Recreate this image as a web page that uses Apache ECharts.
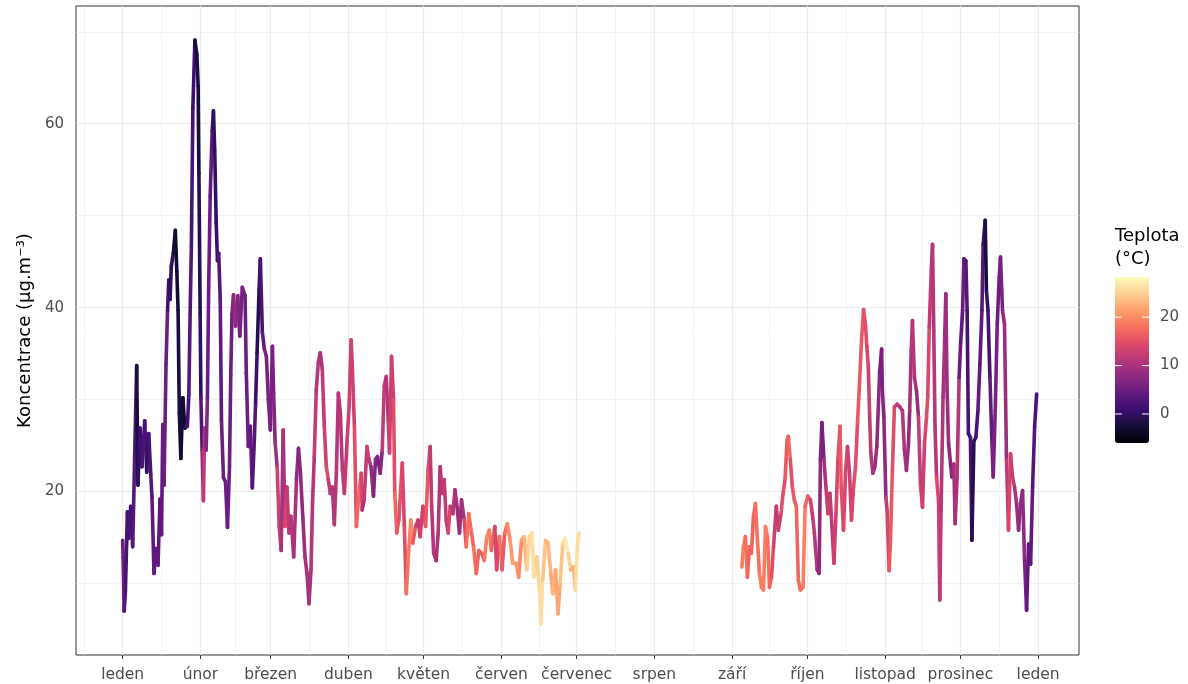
<!DOCTYPE html>
<html>
<head>
<meta charset="utf-8">
<script src="https://cdn.jsdelivr.net/npm/echarts@6/dist/echarts.min.js"></script>
<style>
  html, body { margin: 0; padding: 0; background: #ffffff; }
  #chart { width: 1188px; height: 684px; }
</style>
</head>
<body>
<div id="chart"></div>
<script>
// Den v roce (0 = 1. ledna), koncentrace v µg.m-3 a teplota v °C
// Úsek leden – červen
const dnyZima = [0.0,0.2,0.6,1.1,1.9,2.4,3.2,4.0,4.8,5.6,6.1,6.9,7.7,8.8,9.6,10.4,11.2,11.7,12.5,13.3,14.1,14.9,15.5,16.0,16.5,17.3,17.9,18.4,18.9,19.4,20.2,21.0,21.6,22.1,22.6,23.2,24.0,24.8,25.8,26.4,26.9,27.4,28.0,28.8,29.6,30.1,30.4,30.9,31.2,31.7,32.2,32.7,33.3,33.8,34.3,34.9,35.7,36.2,36.7,37.3,37.8,38.3,38.9,39.4,40.2,41.0,41.8,42.6,43.1,43.6,44.2,45.0,45.9,46.7,47.7,48.8,49.3,50.1,50.9,51.7,52.5,53.0,53.6,54.4,54.9,55.7,56.5,57.3,58.1,58.9,59.7,60.2,60.8,61.6,62.4,63.2,64.0,64.7,65.5,66.3,67.1,68.2,69.3,70.1,70.9,71.9,72.7,73.5,74.3,75.1,75.7,76.4,77.2,78.0,78.8,79.6,80.4,81.2,82.0,82.8,83.6,84.4,85.2,86.0,86.8,87.6,88.4,89.5,90.3,91.1,91.6,92.4,93.2,94.0,95.1,95.5,96.3,97.4,98.2,99.0,100.0,100.8,101.6,102.7,103.5,104.3,105.1,105.9,106.4,107.2,108.0,108.5,109.3,110.1,111.5,112.3,113.1,113.8,114.9,115.7,116.8,117.8,118.6,119.7,120.8,121.8,122.6,123.2,124.0,125.0,125.8,126.6,127.4,128.2,129.0,129.8,130.6,131.7,132.5,133.3,134.3,135.1,136.2,137.0,138.0,139.1,139.9,141.0,142.0,143.1,144.2,145.2,146.2,147.0,148.4,149.1,150.2,151.3,152.3,153.4,154.5,155.5,156.9,157.9,159.0,160.1,161.1,162.2,163.2,164.0,165.1,166.2,166.7,167.5,168.6,169.6,170.7,171.5,172.6,173.6,174.4,175.5,176.5,177.6,178.7,179.7,180.5,181.3,181.9];
const koncZima = [14.7,12.8,7.0,9.1,17.8,14.9,18.4,14.0,23.8,33.7,20.7,26.9,22.7,27.7,22.1,26.3,21.9,19.4,11.1,13.8,12.0,19.2,15.3,27.3,20.7,33.9,39.7,43.0,40.9,44.5,45.9,48.4,43.9,39.7,28.5,23.6,30.2,26.9,27.1,30.6,39.3,46.7,61.7,69.1,67.5,64.1,54.6,39.3,30.2,24.5,19.0,26.9,24.5,30.2,42.2,52.1,59.2,61.4,57.1,49.2,45.1,45.9,41.0,27.7,21.5,21.1,16.1,22.7,32.7,39.3,41.4,38.0,41.3,36.9,42.2,41.3,32.9,24.9,27.1,20.4,25.6,29.6,35.1,42.0,45.3,37.3,35.5,34.7,30.0,26.7,35.8,30.7,25.3,22.7,16.2,13.6,26.7,16.2,20.5,15.5,17.3,12.9,21.3,24.7,22.0,16.9,12.9,11.1,7.8,11.5,18.7,23.8,31.1,34.0,35.1,33.3,27.1,22.7,21.3,19.8,20.5,16.4,22.0,30.7,28.5,22.4,19.8,25.6,29.3,36.5,33.3,27.1,16.2,19.1,22.0,18.0,19.1,24.9,23.5,22.7,19.5,23.5,23.8,22.0,24.5,31.5,32.5,27.8,24.2,34.7,30.0,19.8,15.5,16.9,23.1,16.2,8.9,12.5,16.9,14.4,16.2,16.9,15.1,18.4,16.2,22.4,24.9,18.4,13.3,12.5,15.5,22.7,19.8,21.3,16.9,15.5,18.4,17.6,20.2,18.4,15.5,19.1,16.9,14.0,17.6,15.5,14.0,11.1,13.6,13.3,12.5,15.1,15.8,13.6,16.2,11.5,15.1,11.5,15.5,16.5,14.7,12.2,12.2,10.7,14.7,15.1,11.5,15.1,15.5,10.7,12.9,9.3,5.6,10.4,14.7,14.4,11.1,8.9,11.5,6.7,10.0,14.4,14.9,13.3,11.5,11.8,9.3,14.0,15.5];
const teplZima = [5,5,3,2,2,2,2,3,2,-2,0,1,2,2,0,2,3,4,4,4,4,4,4,5,5,5,2,0,0,0,-2,-3,-3,-2,-2,-3,-3,-1,2,3,3,2,1,-2,-2,-2,-1,0,3,8,12,10,7,5,5,4,2,0,0,1,1,3,4,5,5,5,5,5,5,6,8,8,7,6,6,5,5,5,4,3,3,1,-1,0,2,4,6,6,6,6,6,7,9,13,13,10,10,14,12,11,11,10,8,7,8,9,10,10,10,11,11,12,11,11,10,12,13,15,12,11,11,11,11,11,11,12,12,13,13,13,13,15,17,17,14,10,12,13,11,8,7,7,6,7,12,12,11,12,13,13,15,17,16,15,14,15,18,19,20,16,13,12,13,14,16,15,12,11,11,10,11,11,12,12,12,14,12,11,10,9,9,10,15,18,18,17,18,17,17,17,19,20,19,17,14,14,18,16,18,20,21,22,21,20,21,23,25,25,26,26,25,26,26,24,23,23,22,23,22,22,24,26,27,25,22,23,26,26,26];

// Úsek září – prosinec
const dnyPodzim = [246.9,247.5,248.3,249.1,249.9,250.7,251.5,252.3,253.1,253.9,254.7,255.5,256.3,257.1,257.9,258.7,259.5,260.6,261.4,262.5,263.3,264.1,264.9,265.4,266.2,267.0,267.8,268.6,269.4,270.2,271.3,272.1,273.2,274.2,275.0,275.8,276.9,277.7,278.2,278.8,279.6,280.4,281.2,282.0,282.8,283.6,284.4,285.2,286.0,286.5,287.4,288.2,289.0,289.8,290.6,291.4,292.2,293.0,293.8,294.6,295.4,296.2,296.7,297.3,297.8,298.3,299.1,299.9,300.7,301.8,302.6,302.9,303.5,304.3,304.8,305.6,306.1,306.9,307.7,308.8,309.9,310.9,311.7,312.5,313.3,313.8,314.4,314.9,315.7,316.5,317.3,318.1,318.9,319.7,320.5,321.0,321.6,322.4,322.9,323.4,323.9,324.5,325.3,325.8,326.3,327.1,327.7,328.2,328.7,329.3,330.1,330.6,331.4,331.9,332.7,333.5,334.1,334.9,335.4,336.2,336.7,337.2,338.0,338.6,339.4,340.2,341.0,341.8,342.6,343.1,343.9,344.4,345.0,345.8,346.6,347.1,347.9,348.7,349.5,350.0,350.8,351.6,352.4,353.2,354.0,354.8,355.6,356.4,357.2,358.0,358.8,359.6,360.4,361.2,362.0,362.8,363.6,364.4];
const koncPodzim = [11.8,14.0,15.1,10.7,14.0,13.3,17.3,18.7,14.7,11.1,9.6,9.3,16.2,15.1,9.6,10.7,14.0,18.4,15.8,17.6,19.8,21.3,25.6,26.0,23.5,20.5,19.1,18.4,10.4,9.3,9.6,18.4,19.5,19.1,17.6,15.5,11.5,11.1,23.5,27.5,23.5,20.5,17.6,19.8,16.2,12.2,17.6,23.5,27.1,20.5,15.8,22.0,24.9,22.0,16.9,20.5,22.7,27.5,31.8,36.5,39.8,38.0,35.8,33.6,28.5,24.2,22.0,22.7,24.9,32.9,35.5,31.0,28.1,19.4,17.9,11.4,14.3,22.3,29.2,29.5,29.2,28.8,24.5,22.3,25.2,28.8,35.3,38.6,32.4,31.0,28.1,20.8,18.3,25.2,28.1,30.3,37.9,44.0,46.9,37.5,27.0,21.6,19.0,8.2,17.9,30.3,36.1,41.5,31.0,25.2,23.0,21.6,23.0,16.5,21.6,32.4,36.1,39.7,45.3,45.1,39.7,26.3,25.9,14.7,25.5,25.9,28.8,33.9,39.7,46.9,49.5,41.8,39.7,32.4,25.2,21.6,28.8,38.2,43.3,45.5,39.7,38.2,23.4,15.8,24.1,21.6,20.5,18.7,15.8,18.7,20.1,12.5,7.1,14.3,12.1,20.5,27.0,30.6];
const teplPodzim = [19,19,18,17,17,17,17,18,18,19,19,19,19,18,17,15,13,12,13,15,15,16,17,17,15,16,16,17,18,18,19,17,16,13,12,11,8,8,7,6,10,12,13,12,12,13,14,15,16,15,14,14,13,13,14,15,15,16,16,16,15,15,14,13,12,11,10,9,8,6,6,7,8,12,14,16,16,15,13,12,11,11,10,9,8,10,11,11,10,9,12,13,13,14,15,14,12,11,11,11,11,14,13,12,11,10,9,9,9,8,7,8,10,10,11,5,4,5,3,3,2,1,2,-1,0,2,4,4,3,1,-2,0,2,4,6,6,6,5,5,6,8,9,12,14,13,12,10,9,8,8,8,6,4,4,4,3,2,1];

// Osa x: měsíce
const mesice = ['leden','únor','březen','duben','květen','červen','červenec','srpen','září','říjen','listopad','prosinec','leden'];
const zacatkyMesicu = [0,31,59,90,120,151,181,212,243,273,304,334,365];
const stredyMesicu = [-15.5,15.5,45,74.5,105,135.5,166,196.5,227.5,258,288.5,319,349.5];
// Osa y
const koncHlavni = [20,40,60];
const koncVedlejsi = [10,30,50,70];
// Barevná škála teploty
const teplotaRozsah = [-6, 28.3];
const teplotaPopisky = [0,10,20];
const magma = ['#000004','#140e36','#3b0f70','#641a80','#8c2981','#b73779','#de4968','#f7705c','#fe9f6d','#fecf92','#fcfdbf'];

// Z bodů úseku udělá úsečky; každá má barvu podle teploty počátečního bodu
function usecky(dny, konc, tepl) {
  const out = [];
  for (let i = 0; i < dny.length - 1; i++) {
    out.push([dny[i], konc[i], tepl[i], dny[i + 1], konc[i + 1]]);
  }
  return out;
}
const segmenty = usecky(dnyZima, koncZima, teplZima).concat(usecky(dnyPodzim, koncPodzim, teplPodzim));

const FONT = '"DejaVu Sans", sans-serif';
const grid = { left: 76, top: 6, width: 1003, height: 649 };

// Legenda – geometrie pruhu
const pruh = { left: 1115, top: 277, width: 34, height: 166 };
function pruhY(t) {
  return pruh.top + (teplotaRozsah[1] - t) / (teplotaRozsah[1] - teplotaRozsah[0]) * pruh.height;
}

const hlavniCara = { color: '#ebebeb', width: 1.2, type: 'solid' };
const vedlejsiCara = { color: '#ebebeb', width: 0.6, type: 'solid' };
const mrizka = [];
zacatkyMesicu.forEach(v => mrizka.push({ xAxis: v, lineStyle: hlavniCara }));
stredyMesicu.forEach(v => mrizka.push({ xAxis: v, lineStyle: vedlejsiCara }));
koncHlavni.forEach(v => mrizka.push({ yAxis: v, lineStyle: hlavniCara }));
koncVedlejsi.forEach(v => mrizka.push({ yAxis: v, lineStyle: vedlejsiCara }));

const grafika = [
  { type: 'text', left: 1115, top: 227, style: { text: 'Teplota', font: '18px ' + FONT, fill: '#000' } },
  { type: 'text', left: 1115, top: 250, style: { text: '(°C)', font: '18px ' + FONT, fill: '#000' } }
];
teplotaPopisky.forEach(t => {
  const y = pruhY(t);
  grafika.push({ type: 'line', z: 200, shape: { x1: pruh.left, y1: y, x2: pruh.left + 7, y2: y }, style: { stroke: '#fff', lineWidth: 1 } });
  grafika.push({ type: 'line', z: 200, shape: { x1: pruh.left + pruh.width - 7, y1: y, x2: pruh.left + pruh.width, y2: y }, style: { stroke: '#fff', lineWidth: 1 } });
  grafika.push({ type: 'text', z: 200, x: pruh.left + pruh.width + 11, y: y, style: { text: String(t), font: '15px ' + FONT, fill: '#4d4d4d', textVerticalAlign: 'middle' } });
});

const chart = echarts.init(document.getElementById('chart'), null, { renderer: 'canvas' });
chart.setOption({
  animation: false,
  backgroundColor: '#ffffff',
  grid: Object.assign({ show: true, borderColor: '#333333', borderWidth: 1, backgroundColor: '#ffffff' }, grid),
  xAxis: {
    type: 'value', min: -18.6, max: 381.3,
    axisLine: { show: false },
    splitLine: { show: false },
    axisTick: { show: true, customValues: zacatkyMesicu, length: 4, lineStyle: { color: '#333333', width: 1 } },
    axisLabel: {
      customValues: zacatkyMesicu,
      formatter: v => mesice[zacatkyMesicu.indexOf(v)],
      color: '#4d4d4d', fontSize: 15.5, fontFamily: FONT, margin: 12
    }
  },
  yAxis: {
    type: 'value', min: 2.23, max: 72.8,
    axisLine: { show: false },
    splitLine: { show: false },
    axisTick: { show: true, customValues: koncHlavni, length: 4, lineStyle: { color: '#333333', width: 1 } },
    axisLabel: { customValues: koncHlavni, color: '#4d4d4d', fontSize: 15, fontFamily: FONT, margin: 12 },
    name: 'Koncentrace (µg.m⁻³)', nameLocation: 'middle', nameGap: 42,
    nameTextStyle: { color: '#000000', fontSize: 18, fontFamily: FONT }
  },
  visualMap: {
    type: 'continuous', seriesIndex: 1, dimension: 2,
    min: teplotaRozsah[0], max: teplotaRozsah[1],
    inRange: { color: magma },
    calculable: false, text: ['', ''], showLabel: false,
    itemWidth: pruh.width, itemHeight: pruh.height,
    left: pruh.left, top: pruh.top, padding: 0,
    hoverLink: false
  },
  graphic: grafika,
  series: [
    {
      type: 'line', data: [], silent: true, z: 1,
      markLine: { silent: true, symbol: ['none', 'none'], label: { show: false }, animation: false, data: mrizka }
    },
    {
      type: 'custom', z: 5, silent: true,
      dimensions: ['den', 'koncentrace', 'teplota', 'den2', 'koncentrace2'],
      encode: { x: [0, 3], y: [1, 4] },
      data: segmenty,
      renderItem: function (params, api) {
        const a = api.coord([api.value(0), api.value(1)]);
        const b = api.coord([api.value(3), api.value(4)]);
        return {
          type: 'line',
          shape: { x1: a[0], y1: a[1], x2: b[0], y2: b[1] },
          style: { stroke: api.visual('color'), lineWidth: 3.6, lineCap: 'round' }
        };
      }
    }
  ]
});
</script>
</body>
</html>
